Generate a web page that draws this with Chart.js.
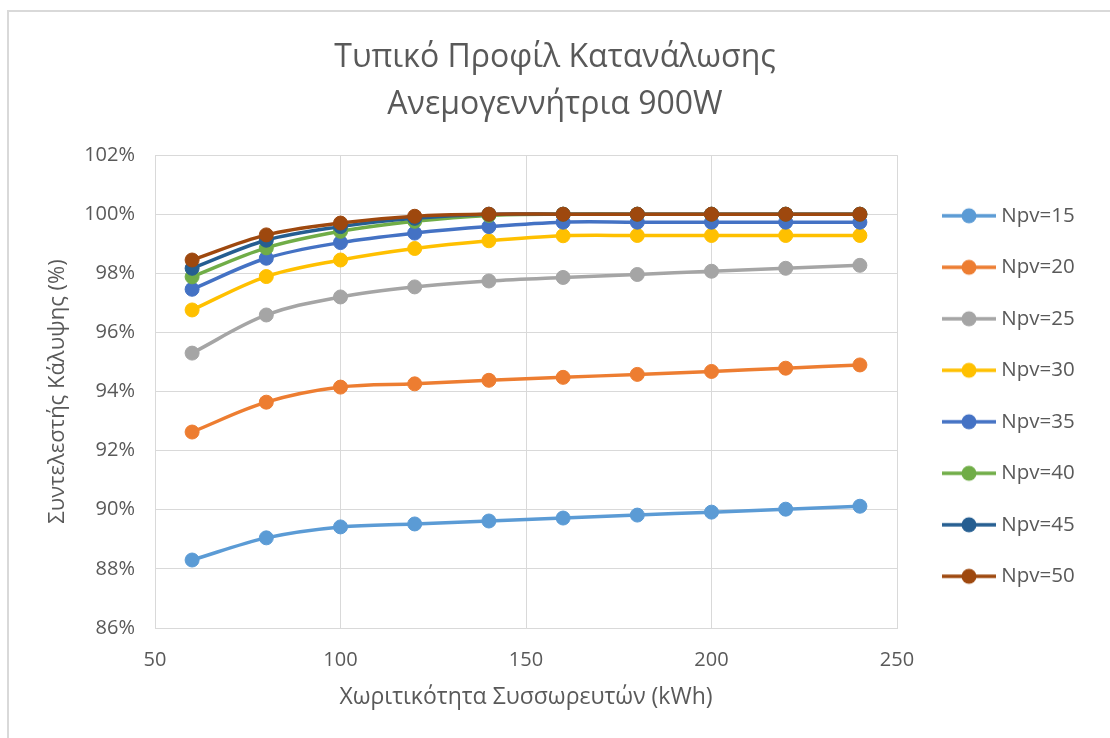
<!DOCTYPE html>
<html>
<head>
<meta charset="utf-8">
<script src="https://cdn.jsdelivr.net/npm/chart.js@4"></script>
<style>
  html, body { margin: 0; padding: 0; background: #fff; }
  body { width: 1110px; height: 738px; overflow: hidden; position: relative; }
  /* chart frame, only its left and top edge are inside the window */
  #frame { position: absolute; left: 7px; top: 10px; width: 1200px; height: 800px;
           border: 2px solid #d9d9d9; box-sizing: border-box; }
  #myChart { position: absolute; left: 0; top: 0; }
</style>
</head>
<body>
<div id="frame"></div>
<canvas id="myChart" width="1110" height="738"></canvas>
<script>
// battery capacity (kWh)
const capacity = [60, 80, 100, 120, 140, 160, 180, 200, 220, 240];

// coverage factor (%) per number of PV panels
const npv15 = [88.30, 89.05, 89.42, 89.52, 89.62, 89.72, 89.82, 89.92, 90.02, 90.12];
const npv20 = [92.63, 93.64, 94.15, 94.26, 94.38, 94.48, 94.58, 94.68, 94.79, 94.90];
const npv25 = [95.30, 96.59, 97.20, 97.54, 97.74, 97.86, 97.96, 98.07, 98.17, 98.27];
const npv30 = [96.76, 97.89, 98.45, 98.84, 99.10, 99.27, 99.28, 99.28, 99.28, 99.28];
const npv35 = [97.46, 98.51, 99.04, 99.36, 99.58, 99.73, 99.73, 99.73, 99.73, 99.73];
const npv40 = [97.88, 98.86, 99.42, 99.76, 99.96, 100, 100, 100, 100, 100];
const npv45 = [98.17, 99.12, 99.58, 99.86, 100, 100, 100, 100, 100, 100];
const npv50 = [98.45, 99.30, 99.70, 99.93, 100, 100, 100, 100, 100, 100];

const seriesNames = ["Npv=15", "Npv=20", "Npv=25", "Npv=30", "Npv=35", "Npv=40", "Npv=45", "Npv=50"];
const seriesValues = [npv15, npv20, npv25, npv30, npv35, npv40, npv45, npv50];
const seriesColors = ["#5B9BD5", "#ED7D31", "#A5A5A5", "#FFC000", "#4472C4", "#70AD47", "#255E91", "#9E480E"];

const yTicks = [86, 88, 90, 92, 94, 96, 98, 100, 102];
const xTicks = [50, 100, 150, 200, 250];

const FONT = "'Open Sans', 'Noto Sans', sans-serif";
Chart.defaults.color = "#595959";
Chart.defaults.font.family = FONT;

// legend marker: line with a dot, shifted right inside its box
const legendPad = 31;
const legendBoxW = 63;
function legendIcon(color) {
  const c = document.createElement("canvas");
  const shift = 9.5;
  const half = 27;
  const w = Math.ceil(2 * (half + shift));
  c.width = w; c.height = 18;
  const g = c.getContext("2d");
  const cx = w / 2 + shift;
  g.strokeStyle = color;
  g.lineWidth = 3.5;
  g.beginPath();
  g.moveTo(cx - half, 9);
  g.lineTo(cx + half, 9);
  g.stroke();
  g.fillStyle = color;
  g.beginPath();
  g.arc(cx, 9, 7.5, 0, Math.PI * 2);
  g.fill();
  return c;
}

const datasets = seriesNames.map(function(name, i) {
  return {
    label: name,
    data: capacity.map(function(x, k) { return { x: x, y: seriesValues[i][k] }; }),
    borderColor: seriesColors[i],
    backgroundColor: seriesColors[i],
    borderWidth: 3.5,
    pointRadius: 7,
    pointBorderWidth: 1,
    pointBackgroundColor: seriesColors[i],
    pointBorderColor: seriesColors[i],
    tension: 0.35,
    order: -i   // later series drawn on top
  };
});

// fixed legend width so the plot ends where it should
const legendWidth = {
  id: "legendWidth",
  beforeInit(chart) {
    const fit = chart.legend.fit;
    chart.legend.fit = function() {
      fit.bind(chart.legend)();
      this.width = 213;
    };
  }
};

new Chart("myChart", {
  type: "line",
  data: { datasets: datasets },
  plugins: [legendWidth],
  options: {
    responsive: false,
    animation: false,
    layout: { padding: 0 },
    plugins: {
      tooltip: { enabled: false },
      title: {
        display: true,
        text: ["Τυπικό Προφίλ Κατανάλωσης", "Ανεμογεννήτρια 900W"],
        color: "#595959",
        font: { family: FONT, size: 32, weight: "normal", lineHeight: 1.47 },
        padding: { top: 34, bottom: 27 }
      },
      legend: {
        position: "right",
        fullSize: false,
        // blank title, only nudges the items down a little
        title: { display: true, text: " ", font: { size: 7, lineHeight: 1 }, padding: 1 },
        labels: {
          usePointStyle: true,
          pointStyleWidth: legendBoxW,
          padding: legendPad,
          color: "#595959",
          font: { family: FONT, size: 20.5 },
          generateLabels(chart) {
            return chart.data.datasets.map(function(ds, i) {
              return {
                text: ds.label,
                pointStyle: legendIcon(ds.borderColor),
                fillStyle: ds.borderColor,
                strokeStyle: ds.borderColor,
                lineWidth: 0,
                hidden: false,
                datasetIndex: i
              };
            });
          }
        }
      }
    },
    scales: {
      x: {
        type: "linear",
        min: 50,
        max: 250,
        afterBuildTicks(scale) { scale.ticks = xTicks.map(function(v) { return { value: v }; }); },
        afterFit(scale) { scale.height = 110; },
        grid: { color: "#d9d9d9", drawTicks: false },
        border: { color: "#d9d9d9" },
        ticks: { padding: 20, font: { size: 20 }, color: "#595959" },
        title: {
          display: true,
          text: "Χωριτικότητα Συσσωρευτών (kWh)",
          color: "#595959",
          font: { size: 23 },
          padding: { bottom: 27 }
        }
      },
      y: {
        min: 86,
        max: 102,
        afterBuildTicks(scale) { scale.ticks = yTicks.map(function(v) { return { value: v }; }); },
        afterFit(scale) { scale.width = 155; },
        grid: { color: "#d9d9d9", drawTicks: false },
        border: { color: "#d9d9d9" },
        ticks: {
          padding: 20,
          font: { size: 20 },
          color: "#595959",
          callback: function(v) { return v + "%"; }
        },
        title: {
          display: true,
          text: "Συντελεστής Κάλυψης (%)",
          color: "#595959",
          font: { size: 22 },
          padding: { top: 45 }
        }
      }
    }
  }
});
</script>
</body>
</html>
